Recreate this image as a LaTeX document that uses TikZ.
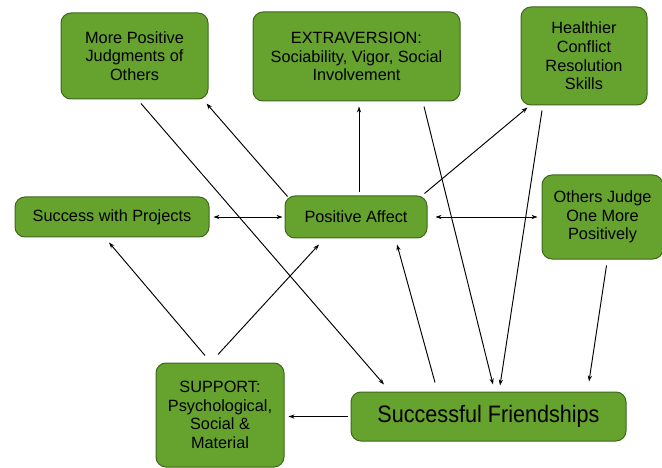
\documentclass[tikz,border=0pt]{standalone}
\usepackage{fontspec}
\setmainfont{Liberation Sans}
\usetikzlibrary{arrows.meta}
\definecolor{boxfill}{RGB}{102,162,46}
\definecolor{boxline}{RGB}{62,104,28}
\tikzset{
  gbox/.style={draw=boxline, line width=1pt, fill=boxfill, rounded corners=10pt,
    align=center, inner sep=0pt, text=black,
    font=\fontsize{16.3pt}{18.7pt}\selectfont},
  conn/.style={line width=0.95pt, -{Stealth[length=6pt,width=4.2pt]}},
  dconn/.style={line width=0.95pt, {Stealth[length=6pt,width=4.2pt]}-{Stealth[length=6pt,width=4.2pt]}}
}
\begin{document}
\begin{tikzpicture}[x=1pt,y=-1pt]
\useasboundingbox (0,0) rectangle (662,468);
\node[gbox, minimum width=147pt, minimum height=86pt] (mpj) at (134.5,56) {More Positive\\Judgments of\\Others};
\node[gbox, minimum width=207pt, minimum height=89pt] (ext) at (356.5,56.5) {EXTRAVERSION:\\Sociability, Vigor, Social\\Involvement};
\node[gbox, minimum width=126pt, minimum height=98pt] (hcr) at (584,56) {Healthier\\Conflict\\Resolution\\Skills};
\node[gbox, minimum width=194pt, minimum height=40pt] (swp) at (112,217) {Success with Projects};
\node[gbox, minimum width=142pt, minimum height=42pt] (pa) at (356,217) {Positive Affect};
\node[gbox, minimum width=121pt, minimum height=84pt] (oj) at (602.5,217) {Others Judge\\One More\\Positively};
\node[gbox, minimum width=128pt, minimum height=104pt] (sup) at (220,415) {SUPPORT:\\Psychological,\\Social \&\\Material};
\node[gbox, minimum width=275pt, minimum height=49pt, font=\fontsize{21.6pt}{25pt}\selectfont] (sf) at (488.5,416.5) {\scalebox{1}[1.1]{Successful Friendships}};

\draw[conn] ([xshift=6.5pt,yshift=-4pt]mpj.south) -- ([xshift=-104.5pt,yshift=7pt]sf.north);
\draw[conn] ([xshift=3pt,yshift=-1pt]pa.north west) -- ([xshift=-2pt,yshift=-4pt]mpj.south east);
\draw[conn] ([xshift=3pt,yshift=3pt]pa.north) -- ([xshift=2.5pt,yshift=-5pt]ext.south);
\draw[conn] ([xshift=-3pt,yshift=2pt]pa.north east) -- ([xshift=7pt,yshift=-2pt]hcr.south west);
\draw[conn] ([xshift=67.5pt,yshift=-5pt]ext.south) -- ([xshift=4.5pt,yshift=7pt]sf.north);
\draw[conn] ([xshift=-42pt,yshift=-5pt]hcr.south) -- ([xshift=11.5pt,yshift=6pt]sf.north);
\draw[dconn] ([xshift=4pt]swp.east) -- ([xshift=-2pt]pa.west);
\draw[dconn] ([xshift=8pt]pa.east) -- ([xshift=-4pt]oj.west);
\draw[conn] ([xshift=-15pt,yshift=7pt]sup.north) -- ([xshift=-3pt,yshift=-5pt]swp.south);
\draw[conn] ([xshift=-2pt,yshift=8pt]sup.north) -- ([xshift=-37pt,yshift=-6pt]pa.south);
\draw[conn] ([xshift=-53.5pt,yshift=9pt]sf.north) -- ([xshift=41pt,yshift=-6pt]pa.south);
\draw[conn] ([xshift=4pt,yshift=-6pt]oj.south) -- ([xshift=100.5pt,yshift=10pt]sf.north);
\draw[conn] ([xshift=-3pt]sf.west) -- ([xshift=4pt]sup.east |- sf.west);
\end{tikzpicture}
\end{document}
